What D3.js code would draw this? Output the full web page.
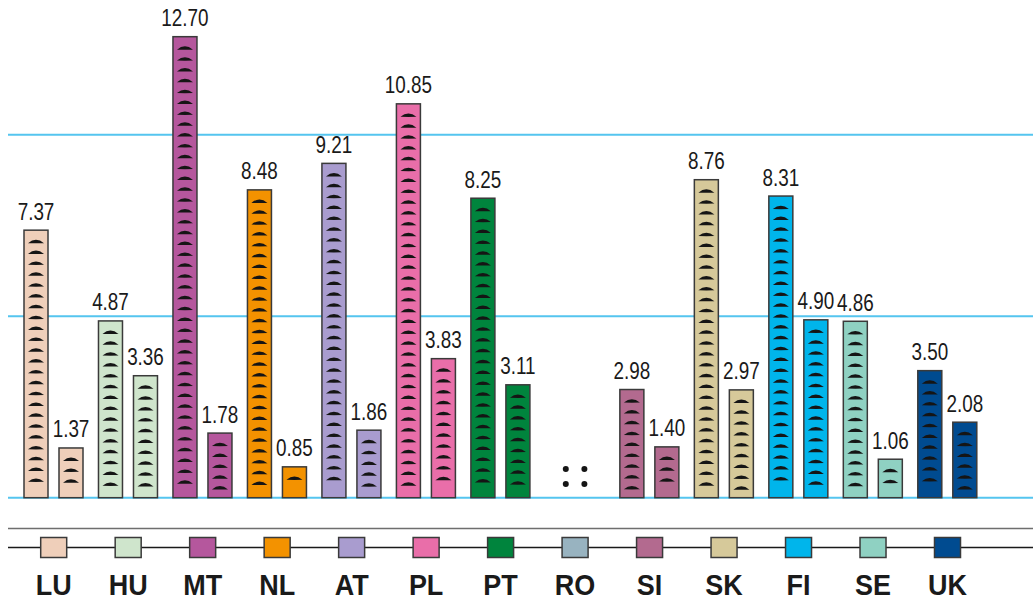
<!DOCTYPE html>
<html>
<head>
<meta charset="utf-8">
<script src="https://cdn.jsdelivr.net/npm/d3@7"></script>
<style>
  html, body { margin: 0; padding: 0; background: #fff; }
  svg { display: block; }
</style>
</head>
<body>
<svg id="chart" width="1033" height="601"></svg>
<script>
const countries = ["LU","HU","MT","NL","AT","PL","PT","RO","SI","SK","FI","SE","UK"];
const firstValues  = [7.37, 4.87, 12.70, 8.48, 9.21, 10.85, 8.25, null, 2.98, 8.76, 8.31, 4.86, 3.50];
const secondValues = [1.37, 3.36, 1.78, 0.85, 1.86, 3.83, 3.11, null, 1.40, 2.97, 4.90, 1.06, 2.08];
const colors = ["#efcfba","#cfe5cc","#b5579d","#f39200","#a99ccf","#e96ea9","#00843d","#98b3c0","#b36a8f","#d6c99a","#00b5eb","#8fd1c2","#004b90"];
const gridTicks = [0, 5, 10];

const svg = d3.select("#chart");
const W = 1033;

const x = d3.scalePoint().domain(countries).range([53.7, 947.5]);
const y = d3.scaleLinear().domain([0, 10]).range([497.7, 134.7]);

const barW = 24, off = [-29.7, 5.3];

// gridlines
svg.append("g").selectAll("line").data(gridTicks).join("line")
  .attr("x1", 8).attr("x2", W)
  .attr("y1", d => y(d)).attr("y2", d => y(d))
  .attr("stroke", "#55c5ef").attr("stroke-width", 2);

// bars
const bars = [];
countries.forEach((c, i) => {
  [firstValues[i], secondValues[i]].forEach((v, j) => {
    if (v != null) bars.push({c, i, j, v});
  });
});

const gBars = svg.append("g");
const arcPath = "M-8,1 Q0,-5.8 8,1 Q0,1.2 -8,1 Z";

bars.forEach(b => {
  const x0 = x(b.c) + off[b.j];
  const top = y(b.v), bottom = y(0);
  const g = gBars.append("g");
  g.append("rect")
    .attr("x", x0).attr("y", top)
    .attr("width", barW).attr("height", bottom - top)
    .attr("fill", colors[b.i])
    .attr("stroke", "#3a3a3a").attr("stroke-width", 1.5);
  for (let yy = top + 12; yy <= bottom - 9; yy += 10.85) {
    g.append("path")
      .attr("d", arcPath)
      .attr("transform", `translate(${x0 + barW / 2},${yy})`)
      .attr("fill", "#151515");
  }
  g.append("text")
    .attr("transform", `translate(${x0 + barW / 2},${top - 10.5}) scale(0.77,1)`)
    .attr("text-anchor", "middle")
    .attr("font-family", "Liberation Sans, Arial, sans-serif")
    .attr("font-size", 24.5)
    .attr("fill", "#1a1a1a")
    .text(d3.format(".2f")(b.v));
});

// missing values ":" markers
countries.forEach((c, i) => {
  [firstValues[i], secondValues[i]].forEach((v, j) => {
    if (v == null) {
      const cx = x(c) + (j === 0 ? -9.3 : 9.3);
      [469, 484].forEach(cy => {
        svg.append("circle").attr("cx", cx).attr("cy", cy).attr("r", 3).attr("fill", "#151515");
      });
    }
  });
});

// legend separator lines
svg.append("line").attr("x1", 8).attr("x2", W).attr("y1", 528.5).attr("y2", 528.5)
  .attr("stroke", "#6e6e6e").attr("stroke-width", 1.6);
svg.append("line").attr("x1", 8).attr("x2", W).attr("y1", 547.5).attr("y2", 547.5)
  .attr("stroke", "#1a1a1a").attr("stroke-width", 1.5);

// legend squares & labels
const leg = svg.append("g").selectAll("g").data(countries).join("g")
  .attr("transform", d => `translate(${x(d)},0)`);
leg.append("rect")
  .attr("x", -13).attr("y", 537.5).attr("width", 26).attr("height", 20)
  .attr("fill", (d, i) => colors[i])
  .attr("stroke", "#3a3a3a").attr("stroke-width", 1.5);
leg.append("text")
  .attr("transform", "translate(0,595) scale(0.9,1)")
  .attr("text-anchor", "middle")
  .attr("font-family", "Liberation Sans, Arial, sans-serif")
  .attr("font-weight", "bold")
  .attr("font-size", 30)
  .attr("fill", "#1a1a1a")
  .text(d => d);
</script>
</body>
</html>
